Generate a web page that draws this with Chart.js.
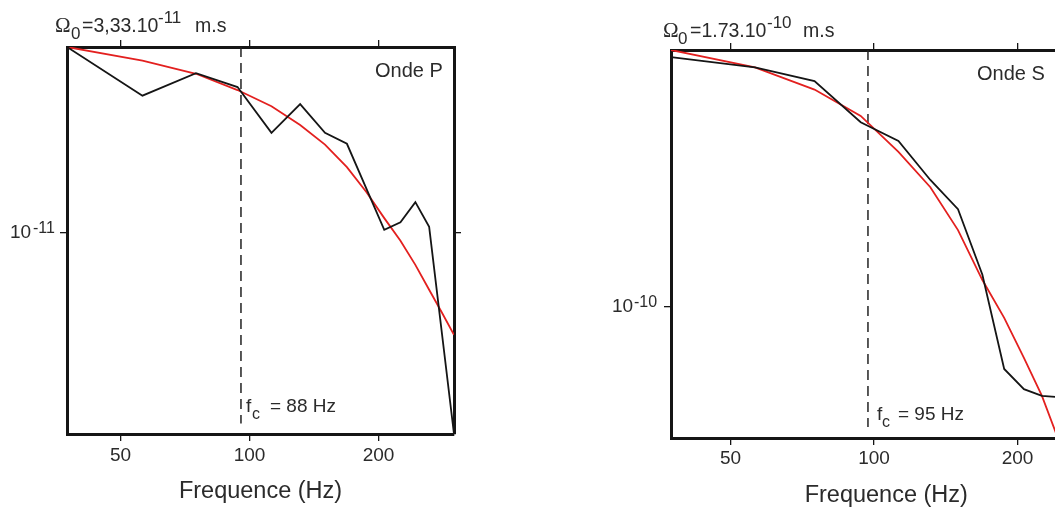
<!DOCTYPE html>
<html>
<head>
<meta charset="utf-8">
<script src="https://cdn.jsdelivr.net/npm/chart.js@4"></script>
<style>
html,body{margin:0;padding:0;background:#fff;width:1055px;height:511px;overflow:hidden;position:relative}
canvas{position:absolute;top:0}
#cP{left:0}
#cS{left:560px}
</style>
</head>
<body>
<canvas id="cP" width="520" height="511"></canvas>
<canvas id="cS" width="600" height="511"></canvas>
<script>
// ---------- data ----------
const xTickValues = [50, 100, 200];
const freqRange = [37.5, 300];
const xTitle = 'Frequence (Hz)';

// Onde P
const obsFreqP = [37.5, 56.25, 75, 93.75, 112.5, 131.25, 150, 168.75, 206.25, 225, 243.75, 262.5, 300];
const obsAmpP  = [3.33e-11, 2.43e-11, 2.81e-11, 2.57e-11, 1.91e-11, 2.30e-11, 1.91e-11, 1.78e-11, 1.02e-11, 1.07e-11, 1.22e-11, 1.04e-11, 2.72e-12];
const fitFreqP = [37.5, 56.25, 75, 93.75, 112.5, 131.25, 150, 168.75, 187.5, 206.25, 225, 243.75, 262.5, 281.25, 300];
const fitAmpP  = [3.33e-11, 3.05e-11, 2.80e-11, 2.52e-11, 2.27e-11, 2.01e-11, 1.77e-11, 1.53e-11, 1.30e-11, 1.10e-11, 9.5e-12, 8.13e-12, 6.92e-12, 5.96e-12, 5.17e-12];
const ampRangeP = [2.72e-12, 3.33e-11];
const yTickP = [1e-11];
const fcLineP = 95.5;           // position of dashed line
const fcLineEndP = 2.91e-12;
const labelP = {wave: 'Onde P', omega: '=3,33.10', omegaExp: '-11', unit: 'm.s', fc: '= 88 Hz', yExp: '-11'};

// Onde S
const obsFreqS = [37.5, 56.25, 75, 93.75, 112.5, 131.25, 150, 168.75, 187.5, 206.25, 225, 243.75, 262.5];
const obsAmpS  = [1.704e-10, 1.667e-10, 1.619e-10, 1.483e-10, 1.425e-10, 1.311e-10, 1.232e-10, 1.071e-10, 8.76e-11, 8.39e-11, 8.27e-11, 8.25e-11, 8.25e-11];
const fitFreqS = [37.5, 56.25, 75, 93.75, 112.5, 131.25, 150, 168.75, 187.5, 206.25, 225, 243.75, 262.5, 281.25, 300];
const fitAmpS  = [1.73e-10, 1.667e-10, 1.59e-10, 1.503e-10, 1.392e-10, 1.291e-10, 1.178e-10, 1.059e-10, 9.77e-11, 8.97e-11, 8.27e-11, 7.53e-11, 6.9e-11, 6.3e-11, 5.8e-11];
const ampRangeS = [7.56e-11, 1.73e-10];
const yTickS = [1e-10];
const fcLineS = 97.1;
const fcLineEndS = 7.74e-11;
const labelS = {wave: 'Onde S', omega: '=1.73.10', omegaExp: '-10', unit: 'm.s', fc: '= 95 Hz', yExp: '-10'};

// ---------- style ----------
const SANS = '"Liberation Sans", Arial, sans-serif';
const SERIF = '"Liberation Serif", "Times New Roman", serif';
const TEXT = '#2b2b2b';
const BLACK = '#151515';
const RED = '#e3201f';

function annotPlugin(L, pos) {
  return {
    id: 'annot',
    afterDraw(chart) {
      const ctx = chart.ctx;
      const ca = chart.chartArea;
      const off = pos.offset;
      const draw = (t, x, y, size, serif) => {
        ctx.font = size + 'px ' + (serif ? SERIF : SANS);
        ctx.fillStyle = TEXT;
        ctx.textAlign = 'left';
        ctx.textBaseline = 'alphabetic';
        ctx.fillText(t, x - off, y);
      };
      ctx.save();
      const o = pos.omega;
      draw('Ω', o[0], o[5], 21, true);
      draw('0', o[1], o[5] + 7, 17);
      draw(L.omega, o[2], o[5], 19.5);
      draw(L.omegaExp, o[3], o[5] - 9, 17);
      draw(L.unit, o[4], o[5], 19.5);
      draw(L.wave, pos.wave[0], pos.wave[1], 20);
      const f = pos.fc;
      draw('f', f[0], f[3], 19);
      draw('c', f[1], f[3] + 7, 16);
      draw(L.fc, f[2], f[3], 19);
      // y tick labels (10 with exponent)
      const ys = chart.scales.y;
      ys.ticks.forEach(t => {
        const py = ys.getPixelForValue(t.value);
        ctx.font = '19px ' + SANS; ctx.fillStyle = TEXT;
        ctx.fillText('10', ca.left + pos.yLab[0], py + 5.5);
        ctx.font = '16px ' + SANS;
        ctx.fillText(L.yExp, ca.left + pos.yLab[1], py);
      });
      ctx.restore();
    }
  };
}

function makePanel(id, d) {
  const tickSetter = s => { s.ticks = xTickValues.map(v => ({value: v})); };
  const yTickSetter = s => { s.ticks = d.yTicks.map(v => ({value: v})); };
  const gridOpts = {drawOnChartArea: false, drawTicks: true, tickLength: 7, color: BLACK, lineWidth: 1.3};
  const borderOpts = {display: true, color: BLACK, width: 3};
  return new Chart(document.getElementById(id), {
    type: 'line',
    data: {
      datasets: [
        {data: d.fitF.map((f, i) => ({x: f, y: d.fitV[i]})), borderColor: RED, borderWidth: 1.8, pointRadius: 0, tension: 0, order: 2},
        {data: d.obsF.map((f, i) => ({x: f, y: d.obsV[i]})), borderColor: BLACK, borderWidth: 1.8, pointRadius: 0, tension: 0, order: 1},
        {data: [{x: d.fc, y: d.yRange[1]}, {x: d.fc, y: d.fcEnd}], borderColor: '#222', borderWidth: 1.5, borderDash: [10, 6], pointRadius: 0, order: 3}
      ]
    },
    options: {
      responsive: false, animation: false, events: [],
      layout: {padding: d.pad},
      plugins: {legend: {display: false}, tooltip: {enabled: false}},
      scales: {
        x: {
          type: 'logarithmic', position: 'bottom', min: freqRange[0], max: freqRange[1],
          afterBuildTicks: tickSetter,
          afterFit: s => { s.height = d.xBottomH; },
          ticks: {callback: v => String(v), font: {family: SANS, size: 19}, color: TEXT, padding: d.tickPad, maxRotation: 0, autoSkip: false},
          grid: gridOpts, border: borderOpts,
          title: {display: true, text: xTitle, font: {family: SANS, size: 23.5}, color: TEXT, padding: {top: 0, bottom: d.titlePad}}
        },
        xTop: {
          axis: 'x', type: 'logarithmic', position: 'top', min: freqRange[0], max: freqRange[1],
          afterBuildTicks: tickSetter,
          afterFit: s => { s.height = 10; },
          ticks: {display: false}, grid: gridOpts, border: borderOpts
        },
        y: {
          type: 'logarithmic', position: 'left', min: d.yRange[0], max: d.yRange[1],
          afterBuildTicks: yTickSetter,
          afterFit: s => { s.width = d.yLeftW; },
          ticks: {display: false}, grid: gridOpts, border: borderOpts
        },
        yR: {
          axis: 'y', type: 'logarithmic', position: 'right', min: d.yRange[0], max: d.yRange[1],
          afterBuildTicks: yTickSetter,
          afterFit: s => { s.width = 10; },
          ticks: {display: false}, grid: gridOpts, border: borderOpts
        }
      }
    },
    plugins: [annotPlugin(d.labels, d.pos)]
  });
}

makePanel('cP', {
  obsF: obsFreqP, obsV: obsAmpP, fitF: fitFreqP, fitV: fitAmpP,
  yRange: ampRangeP, yTicks: yTickP, fc: fcLineP, fcEnd: fcLineEndP, labels: labelP,
  pad: {left: 0, right: 56, top: 37, bottom: 0},
  xBottomH: 77, yLeftW: 67, tickPad: 3, titlePad: 5,
  pos: {offset: 0, omega: [55, 71, 82, 158, 195, 32], wave: [375, 77], fc: [246, 252, 270, 412], yLab: [-57, -34]}
});

makePanel('cS', {
  obsF: obsFreqS, obsV: obsAmpS, fitF: fitFreqS, fitV: fitAmpS,
  yRange: ampRangeS, yTicks: yTickS, fc: fcLineS, fcEnd: fcLineEndS, labels: labelS,
  pad: {left: 0, right: 48.5, top: 40, bottom: 0},
  xBottomH: 73, yLeftW: 111, tickPad: 2, titlePad: 1,
  pos: {offset: 560, omega: [663, 678, 690, 767, 803, 37], wave: [977, 80], fc: [877, 882, 898, 420], yLab: [-59, -37]}
});
</script>
</body>
</html>
